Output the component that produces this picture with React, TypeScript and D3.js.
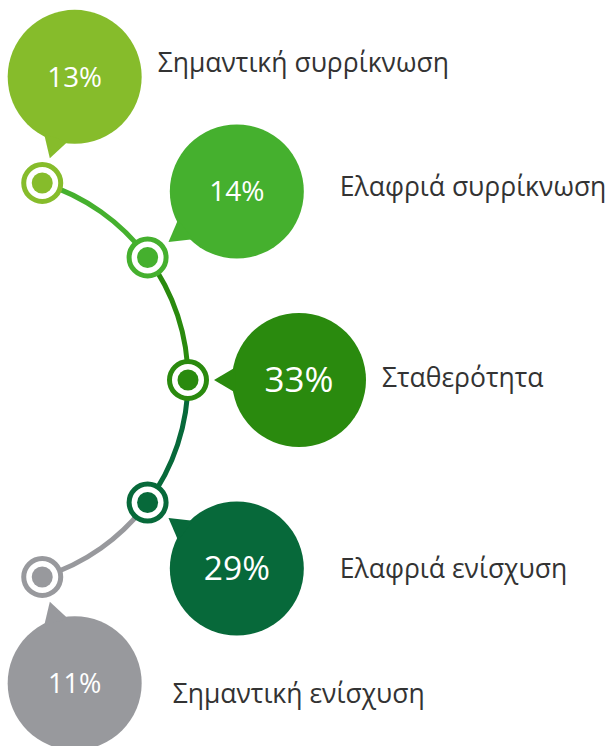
import React from "react";
import * as d3 from "d3";

// ---- data ----
const categories = [
  "Σημαντική συρρίκνωση",
  "Ελαφριά συρρίκνωση",
  "Σταθερότητα",
  "Ελαφριά ενίσχυση",
  "Σημαντική ενίσχυση",
];
const values = [13, 14, 33, 29, 11];
const colors = ["#86bc2b", "#45b02e", "#2a8a0e", "#07693a", "#98999d"];

// ---- layout (label offsets relative to bubble right edge / centre) ----
const labelDx = [16, 36, 16, 36, 31];
const labelDy = [-5, 4.5, 7, 9.5, 20];

const W = 610;
const H = 746;
const CX = -18;
const CY = 380;
const R = 206;
const BUBBLE_DIST = 111;
const BUBBLE_R = 67;
const TIP_DIST = 26;
const NODE_R = 18.5;
const DOT_R = 10.5;

export default function App() {
  const angle = d3
    .scalePoint<string>()
    .domain(categories)
    .range([(-73 * Math.PI) / 180, (73 * Math.PI) / 180]);
  const fontScale = d3
    .scaleLinear()
    .domain([d3.min(values) as number, d3.max(values) as number])
    .range([27, 35]);

  const pts = categories.map((c, i) => {
    const a = angle(c) as number;
    const nx = CX + R * Math.cos(a);
    const ny = CY + R * Math.sin(a);
    const bx = CX + (R + BUBBLE_DIST) * Math.cos(a);
    const by = CY + (R + BUBBLE_DIST) * Math.sin(a);
    const tx = CX + (R + TIP_DIST) * Math.cos(a);
    const ty = CY + (R + TIP_DIST) * Math.sin(a);
    return { c, i, a, nx, ny, bx, by, tx, ty };
  });

  const segs = pts.slice(1).map((p, k) => {
    const path = d3.path();
    path.arc(CX, CY, R, pts[k].a, p.a, false);
    return { d: path.toString(), color: colors[p.i] };
  });

  const bubblePath = (p: typeof pts[number]) => {
    const dir = Math.atan2(p.ty - p.by, p.tx - p.bx);
    const delta = (11 * Math.PI) / 180;
    const rr = BUBBLE_R - 2;
    const b1x = p.bx + rr * Math.cos(dir - delta);
    const b1y = p.by + rr * Math.sin(dir - delta);
    const b2x = p.bx + rr * Math.cos(dir + delta);
    const b2y = p.by + rr * Math.sin(dir + delta);
    return `M${b1x},${b1y}L${p.tx},${p.ty}L${b2x},${b2y}Z`;
  };

  return (
    <svg
      width={W}
      height={H}
      style={{ position: "absolute", left: 0, top: 0 }}
      fontFamily="'Open Sans', sans-serif"
    >
      <rect width={W} height={H} fill="#fff" />
      {segs.map((s, k) => (
        <path key={k} d={s.d} fill="none" stroke={s.color} strokeWidth={5} />
      ))}
      {pts.map((p) => (
        <g key={p.c}>
          <circle cx={p.bx} cy={p.by} r={BUBBLE_R} fill={colors[p.i]} />
          <path d={bubblePath(p)} fill={colors[p.i]} />
          <text
            x={p.bx}
            y={p.by}
            dy="0.35em"
            textAnchor="middle"
            fill="#fff"
            fontSize={fontScale(values[p.i])}
          >
            {values[p.i]}%
          </text>
          <circle
            cx={p.nx}
            cy={p.ny}
            r={NODE_R}
            fill="#fff"
            stroke={colors[p.i]}
            strokeWidth={5}
          />
          <circle cx={p.nx} cy={p.ny} r={DOT_R} fill={colors[p.i]} />
          <text
            x={p.bx + BUBBLE_R + labelDx[p.i]}
            y={p.by + labelDy[p.i]}
            fill="#333"
            fontSize={26.5}
          >
            {p.c}
          </text>
        </g>
      ))}
    </svg>
  );
}
